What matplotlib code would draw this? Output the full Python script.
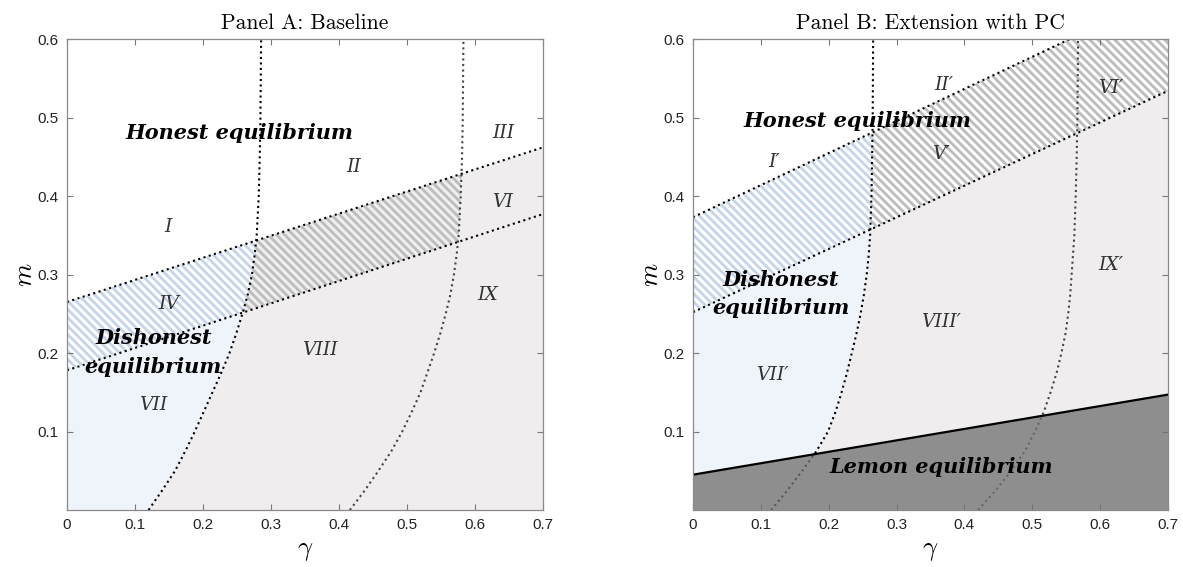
import numpy as np
import matplotlib
matplotlib.use("Agg")
import matplotlib.pyplot as plt

# ---------------- data ----------------
gamma_ends = [0.0, 0.7]
a_upper_m = [0.265, 0.462]
a_lower_m = [0.178, 0.377]
b_upper_m = [0.373, 0.659]
b_lower_m = [0.252, 0.534]
b_lemon_m = [0.045, 0.147]

curve_m = [0.0, 0.025, 0.05, 0.075, 0.1, 0.125, 0.15, 0.175, 0.2, 0.225,
           0.25, 0.275, 0.3, 0.325, 0.35, 0.4, 0.45, 0.5, 0.6]
a_left_gamma = [0.120, 0.140, 0.159, 0.174, 0.188, 0.201, 0.214, 0.227, 0.239, 0.249,
                0.258, 0.266, 0.272, 0.276, 0.279, 0.282, 0.2835, 0.2845, 0.2855]
a_right_gamma = [0.416, 0.438, 0.458, 0.477, 0.493, 0.507, 0.520, 0.530, 0.540, 0.549,
                 0.557, 0.564, 0.569, 0.573, 0.576, 0.579, 0.581, 0.582, 0.583]
b_left_gamma = [0.115, 0.139, 0.161, 0.182, 0.199, 0.210, 0.219, 0.227, 0.234, 0.241,
                0.247, 0.252, 0.256, 0.259, 0.261, 0.263, 0.264, 0.2648, 0.2655]
b_right_gamma = [0.420, 0.446, 0.469, 0.489, 0.504, 0.517, 0.527, 0.536, 0.543, 0.549,
                 0.553, 0.556, 0.558, 0.560, 0.562, 0.564, 0.5655, 0.5665, 0.5675]

x_ticks = [0.0, 0.1, 0.2, 0.3, 0.4, 0.5, 0.6, 0.7]
x_tick_labels = ["0", "0.1", "0.2", "0.3", "0.4", "0.5", "0.6", "0.7"]
y_ticks = [0.1, 0.2, 0.3, 0.4, 0.5, 0.6]
y_tick_labels = ["0.1", "0.2", "0.3", "0.4", "0.5", "0.6"]

titles = ["Panel A: Baseline", "Panel B: Extension with PC"]

a_region_labels = ["I", "II", "III", "IV", "VI", "VII", "VIII", "IX"]
b_region_labels = ["I\u2032", "II\u2032", "V\u2032", "VI\u2032", "VII\u2032", "VIII\u2032", "IX\u2032"]

# ---------------- style ----------------
plt.rcParams["mathtext.fontset"] = "cm"
plt.rcParams["hatch.linewidth"] = 2.0
HATCH = chr(92) * 4

C_BLUE = "#eff3fa"
C_GREY = "#efedee"
C_HATCH_BLUE = "#c6d3ec"
C_HATCH_GREY = "#bcbcbc"
C_LEMON = "#6f6f6f"
NUM_COLOR = "#333333"
LABEL_FONT = "DejaVu Serif"
BOLD_SIZE = 15
NUM_SIZE = 13.5

fig = plt.figure(figsize=(11.83, 5.67), dpi=100)
axA = fig.add_axes([0.0566, 0.1005, 0.4024, 0.8307])
axB = fig.add_axes([0.5858, 0.1005, 0.4015, 0.8307])

xs = np.linspace(gamma_ends[0], gamma_ends[1], 2801)


def line_vals(m_ends):
    return np.interp(xs, gamma_ends, m_ends)


def inv_curve(gam):
    # m-level of the curve at each gamma (points left of curve lie above it)
    return np.clip(np.interp(xs, gam, curve_m, left=0.0, right=0.6), 0.0, 0.6)


def fill(ax, lo, hi, color=None, hatch=None, z=0.5, alpha=1.0):
    mask = hi > lo
    if hatch is None:
        ax.fill_between(xs, lo, hi, where=mask, interpolate=True,
                        facecolor=color, edgecolor="none", linewidth=0,
                        zorder=z, alpha=alpha)
    else:
        ax.fill_between(xs, lo, hi, where=mask, interpolate=True,
                        facecolor="none", edgecolor=color, hatch=hatch,
                        linewidth=0, zorder=z)


def bold_label(ax, x, y, s):
    ax.text(x, y, s, family=LABEL_FONT, style="italic", weight="bold",
            fontsize=BOLD_SIZE, ha="center", va="center", zorder=5)


# ---------------- Panel A ----------------
L = line_vals(a_lower_m)
U = line_vals(a_upper_m)
g1 = inv_curve(a_left_gamma)
g2 = inv_curve(a_right_gamma)

fill(axA, np.zeros_like(xs), np.minimum(g1, U), C_GREY, z=0.3)
fill(axA, g1, L, C_BLUE, z=0.3)
fill(axA, np.maximum(g1, L), np.minimum(U, 0.6), C_HATCH_BLUE, hatch=HATCH, z=0.6)
fill(axA, np.maximum(L, g2), np.minimum(U, g1), C_HATCH_GREY, hatch=HATCH, z=0.6)

axA.plot(gamma_ends, a_upper_m, ls=":", color="black", lw=1.5, zorder=3)
axA.plot(gamma_ends, a_lower_m, ls=":", color="black", lw=1.5, zorder=3)
axA.plot(a_left_gamma, curve_m, ls=":", color="black", lw=1.5, zorder=3)
axA.plot(a_right_gamma, curve_m, ls=":", color="#444444", lw=1.5, zorder=3)

a_pos = [(0.149, 0.360), (0.421, 0.437), (0.641, 0.480), (0.149, 0.263),
         (0.641, 0.392), (0.127, 0.134), (0.372, 0.204), (0.619, 0.274)]
for lab, (x, y) in zip(a_region_labels, a_pos):
    axA.text(x, y, lab, family=LABEL_FONT, style="italic", fontsize=NUM_SIZE,
             color=NUM_COLOR, ha="center", va="center", zorder=5)
bold_label(axA, 0.253, 0.480, "Honest equilibrium")
bold_label(axA, 0.127, 0.219, "Dishonest")
bold_label(axA, 0.127, 0.182, "equilibrium")

# ---------------- Panel B ----------------
L = line_vals(b_lower_m)
U = np.minimum(line_vals(b_upper_m), 0.6)
W = line_vals(b_lemon_m)
g1 = inv_curve(b_left_gamma)

fill(axB, np.maximum(W, g1), L, C_BLUE, z=0.3)
fill(axB, W, np.minimum(L, g1), C_GREY, z=0.3)
fill(axB, np.maximum(L, g1), U, C_HATCH_BLUE, hatch=HATCH, z=0.6)
fill(axB, L, np.minimum(U, g1), C_HATCH_GREY, hatch=HATCH, z=0.6)

axB.plot(gamma_ends, b_upper_m, ls=":", color="black", lw=1.5, zorder=3)
axB.plot(gamma_ends, b_lower_m, ls=":", color="black", lw=1.5, zorder=3)
axB.plot(b_left_gamma, curve_m, ls=":", color="black", lw=1.5, zorder=3)
axB.plot(b_right_gamma, curve_m, ls=":", color="#444444", lw=1.5, zorder=3)
fill(axB, np.zeros_like(xs), W, C_LEMON, z=3.5, alpha=0.78)
axB.plot(gamma_ends, b_lemon_m, ls="-", color="black", lw=1.6, zorder=4)

b_pos = [(0.119, 0.443), (0.370, 0.541), (0.366, 0.454), (0.615, 0.537),
         (0.117, 0.172), (0.366, 0.239), (0.615, 0.312)]
for lab, (x, y) in zip(b_region_labels, b_pos):
    axB.text(x, y, lab, family=LABEL_FONT, style="italic", fontsize=NUM_SIZE,
             color=NUM_COLOR, ha="center", va="center", zorder=5)
bold_label(axB, 0.243, 0.496, "Honest equilibrium")
bold_label(axB, 0.129, 0.293, "Dishonest")
bold_label(axB, 0.129, 0.257, "equilibrium")
bold_label(axB, 0.366, 0.055, "Lemon equilibrium")

# ---------------- axes cosmetics ----------------
for ax, title in zip([axA, axB], titles):
    ax.set_xlim(0, 0.7)
    ax.set_ylim(0, 0.6)
    ax.set_xticks(x_ticks)
    ax.set_xticklabels(x_tick_labels, family="Liberation Sans")
    ax.set_yticks(y_ticks)
    ax.set_yticklabels(y_tick_labels, family="Liberation Sans")
    ax.tick_params(direction="in", top=True, right=True, length=4, width=0.8,
                   color="#7a7a7a", labelsize=11, labelcolor="#222222", pad=6)
    for s in ax.spines.values():
        s.set_color("#8a8a8a")
        s.set_linewidth(0.9)
        s.set_zorder(6)
    ax.set_title(title, family="cmr10", fontsize=15.5, pad=7)
    ax.set_xlabel(r"$\gamma$", fontsize=19, labelpad=3)
    ax.set_ylabel(r"$m$", fontsize=19)
    ax.yaxis.set_label_coords(-0.061, 0.5)

fig.savefig("out.png", dpi=100)
